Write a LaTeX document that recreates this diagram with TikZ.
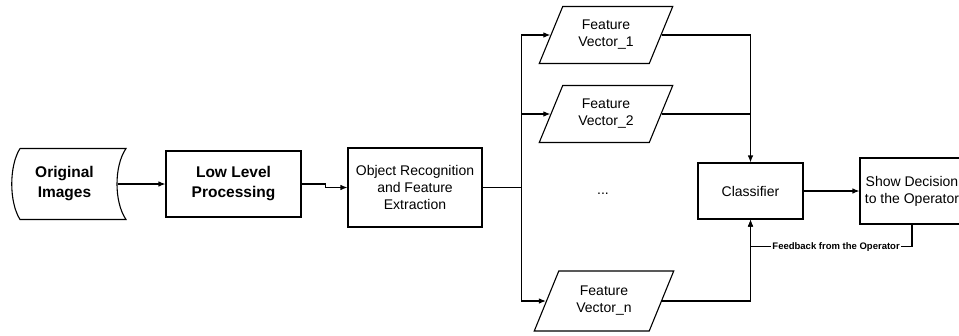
\documentclass[tikz,border=0pt]{standalone}
\usepackage{fontspec}
\setmainfont{Liberation Sans}
\usetikzlibrary{shapes.geometric,arrows.meta}
\tikzset{
  box/.style={draw, rectangle, align=center, inner sep=0pt, font=\fontsize{14}{17}\selectfont},
  fvec/.style={draw, trapezium, trapezium left angle=63, trapezium right angle=117,
    trapezium stretches=true, minimum width=134, minimum height=57, inner sep=0pt,
    align=center, font=\fontsize{14}{17}\selectfont},
  boldtxt/.style={align=center, font=\bfseries\fontsize{15.5}{20}\selectfont},
}
\begin{document}
\begin{tikzpicture}[x=1pt, y=-1pt, >={Latex[length=7pt,width=5.5pt]}, line width=1.1pt]
  \useasboundingbox (0,0) rectangle (959,335);
  % 1. input and processing boxes
  \node[boldtxt, minimum width=105, minimum height=71, inner sep=0pt] (orig) at (64.5,184) {Original\\Images};
  \draw (20,148.5) -- (126,148.5) .. controls (114,166) and (114,202) .. (126,219.5)
        -- (20,219.5) .. controls (9,202) and (9,166) .. (20,148.5);
  \node[box, boldtxt, minimum width=135, minimum height=66] (low) at (233.5,184) {Low Level\\Processing};
  \node[box, minimum width=134, minimum height=79] (obj) at (415,187.5) {Object Recognition\\and Feature\\Extraction};

  % 2. feature vectors
  \node[fvec] (fv1) at (606,35) {Feature\\Vector\_1};
  \node[fvec] (fv2) at (606,114) {Feature\\Vector\_2};
  \node[font=\fontsize{14}{17}\selectfont] (dots) at (603,194) {...};
  \node[fvec, minimum width=140, minimum height=60] (fvn) at (604,301) {Feature\\Vector\_n};

  % 3. classifier and output
  \node[box, minimum width=105, minimum height=56] (cls) at (750.5,191) {Classifier};
  \node[box, minimum width=104, minimum height=66] (show) at (912,191) {Show Decision\\to the Operator};

  % 4. connectors
  \draw[->] (orig.east) -- (low.west);
  \draw[->] (low.east) -- ++(24,0) |- (obj.west);
  \draw[->] (obj.east) -- ++(39,0) |- (fv1.west);
  \draw[->] (obj.east) -- ++(39,0) |- (fv2.west);
  \draw[->] (obj.east) -- ++(39,0) |- (fvn.west);
  \draw[->] (fv1.east) -| (cls.north);
  \draw (fv2.east) -- (fv2.east -| cls.north);
  \draw[->] (fvn.east) -| (cls.south);
  \draw[->] (cls.east) -- (show.west);
  \draw[->] (show.south) -- ++(0,22) -| (cls.south)
    node[pos=0.235, fill=white, inner sep=1pt, font=\bfseries\fontsize{9.5}{10}\selectfont] (fbk) {Feedback from the Operator};
\end{tikzpicture}
\end{document}
